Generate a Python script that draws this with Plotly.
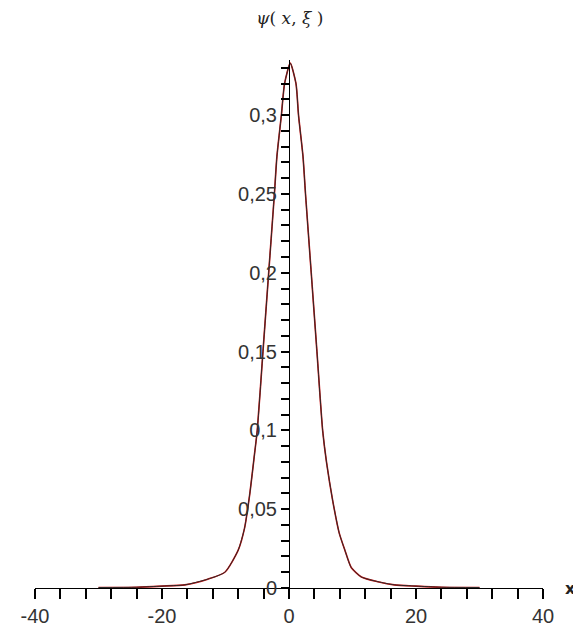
import plotly.graph_objects as go

# Values
x_vals = [-30, -24, -20, -16.4, -12.8, -10.1, -8.0, -7.0, -6.2, -5.4, -5.0, -4.1, -3.2, -2.3, -1.9,
          -1.2, -0.7, 0.2, 1.1, 1.5, 2.2, 2.6, 3.5, 4.4, 5.3, 5.9, 6.9, 7.9, 8.8, 9.8,
          11.4, 14.0, 16.6, 20, 24, 30]
psi_vals = [0.0003, 0.0005, 0.0012, 0.002, 0.0056, 0.010, 0.024, 0.038, 0.059, 0.086, 0.1, 0.15, 0.2, 0.25, 0.274,
            0.30, 0.32, 0.333, 0.32, 0.30, 0.274, 0.25, 0.2, 0.15, 0.1, 0.08, 0.055, 0.035, 0.024, 0.013,
            0.007, 0.004, 0.002, 0.0012, 0.0005, 0.0003]

x_tick_vals = [-40, -20, 0, 20, 40]
x_tick_text = ["-40", "-20", "0", "20", "40"]
y_tick_vals = [0, 0.05, 0.1, 0.15, 0.2, 0.25, 0.3]
y_tick_text = ["0", "0,05", "0,1", "0,15", "0,2", "0,25", "0,3"]

fig = go.Figure()
fig.add_trace(go.Scatter(x=x_vals, y=psi_vals, mode="lines",
                         line=dict(color="#d01010", width=1.6, shape="spline", smoothing=0.6),
                         hoverinfo="skip"))
fig.add_trace(go.Scatter(x=x_vals, y=psi_vals, mode="lines",
                         line=dict(color="#2a2a2a", width=1.0, shape="spline", smoothing=0.6),
                         hoverinfo="skip"))

tick_font = dict(family="Liberation Sans, Arial", size=20, color="#333333")

fig.update_layout(
    width=581, height=631,
    margin=dict(l=27, r=46, t=52, b=43),
    paper_bgcolor="white", plot_bgcolor="white",
    showlegend=False,
    title=dict(text="<i>ψ</i>( <i>x</i>, <i>ξ</i> )", x=0.485, xanchor="center",
               y=0.993, yanchor="top",
               font=dict(family="DejaVu Serif, Liberation Serif, serif", size=17, color="#222222")),
    xaxis=dict(range=[-40, 40], showgrid=False, zeroline=False,
               showline=True, linecolor="black", linewidth=1,
               ticks="outside", ticklen=10, tickcolor="black", tickwidth=1.5,
               tickvals=x_tick_vals, ticktext=x_tick_text, tickfont=tick_font,
               minor=dict(dtick=4, tick0=0, ticks="outside", ticklen=10, tickcolor="black", tickwidth=1.5)),
    yaxis=dict(range=[0, 0.335], showgrid=False, zeroline=False,
               anchor="free", position=0.5,
               showline=True, linecolor="black", linewidth=1,
               ticks="outside", ticklen=8, tickcolor="black", tickwidth=1.5,
               tickvals=y_tick_vals, ticktext=y_tick_text, tickfont=tick_font,
               minor=dict(dtick=0.01, tick0=0, ticks="outside", ticklen=8, tickcolor="black", tickwidth=1.5)),
    annotations=[dict(text="<b>x</b>", xref="paper", yref="paper", x=1.055, y=0,
                      xanchor="center", yanchor="middle", showarrow=False,
                      font=dict(family="DejaVu Sans, Liberation Sans", size=16, color="#222222"))],
)

fig.write_html("out.html")
